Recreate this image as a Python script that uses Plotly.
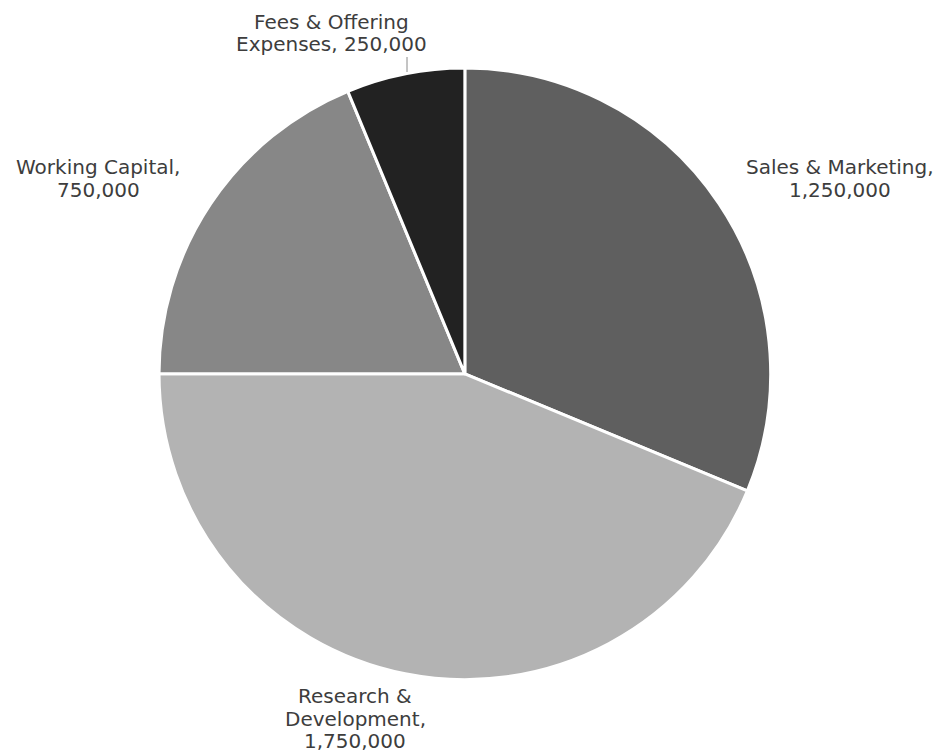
import plotly.graph_objects as go

categories = ["Sales & Marketing", "Research & Development", "Working Capital", "Fees & Offering Expenses"]
values = [1250000, 1750000, 750000, 250000]
label_lines = [["Sales & Marketing,", "1,250,000"],
               ["Research &", "Development,", "1,750,000"],
               ["Working Capital,", "750,000"],
               ["Fees & Offering", "Expenses, 250,000"]]
colors = ["#5f5f5f", "#b3b3b3", "#878787", "#222222"]

W, H = 941, 753
# label block positions (pixel centre x, first-line centre y)
label_pos = [(840, 167), (355, 696), (98, 167), (331, 22)]
LINE_GAP = 22.5

fig = go.Figure(go.Pie(
    labels=categories, values=values,
    textinfo="none", sort=False, direction="clockwise", rotation=0,
    marker=dict(colors=colors, line=dict(color="white", width=3)),
    showlegend=False, hoverinfo="label+value",
    domain=dict(x=[0.169, 0.819], y=[0.097, 0.910]),
))

for lines, (px, py) in zip(label_lines, label_pos):
    for i, line in enumerate(lines):
        fig.add_annotation(
            x=px / W, y=1 - (py + i * LINE_GAP) / H, xref="paper", yref="paper",
            text=line, showarrow=False, xanchor="center", yanchor="middle",
            borderpad=0,
            font=dict(family="DejaVu Sans", size=20, color="#3d3d3d"),
        )

# leader line for the small slice
fig.add_shape(type="line", xref="paper", yref="paper",
              x0=407 / W, x1=407 / W, y0=1 - 57 / H, y1=1 - 72 / H,
              line=dict(color="#8a8a8a", width=1))

fig.update_layout(width=W, height=H, margin=dict(l=0, r=0, t=0, b=0),
                  paper_bgcolor="white", plot_bgcolor="white")
fig.write_html("out.html")
